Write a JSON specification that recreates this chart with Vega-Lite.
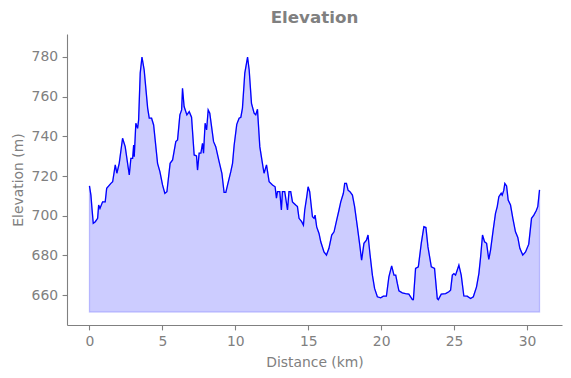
{
  "$schema": "https://vega.github.io/schema/vega-lite/v6.json",
  "autosize": {"type": "none"},
  "padding": {"left": 67, "top": 34, "right": 9, "bottom": 53},
  "width": 495,
  "height": 291,
  "background": "white",
  "title": {"text": "Elevation", "font": "DejaVu Sans", "fontSize": 16.7, "fontWeight": "bold", "color": "#808080", "anchor": "middle", "frame": "group", "offset": 7},
  "config": {
    "view": {"stroke": null},
    "axis": {"labelFont": "DejaVu Sans", "titleFont": "DejaVu Sans", "labelFontSize": 13.9, "titleFontSize": 13.9, "titleFontWeight": "normal", "labelColor": "#808080", "titleColor": "#808080", "domainColor": "#808080", "tickColor": "#808080", "domainWidth": 1.1, "tickWidth": 1.1, "tickSize": 4.9, "labelPadding": 4.5, "grid": false}
  },
  "data": {"values": [
    {"d": 0.00, "e": 715.0}, {"d": 0.10, "e": 710.4}, {"d": 0.17, "e": 703.9}, {"d": 0.26, "e": 696.2}, {"d": 0.40, "e": 697.0},
    {"d": 0.56, "e": 698.7}, {"d": 0.63, "e": 705.4}, {"d": 0.72, "e": 703.7}, {"d": 0.90, "e": 707.0}, {"d": 1.08, "e": 707.0},
    {"d": 1.18, "e": 713.8}, {"d": 1.47, "e": 716.3}, {"d": 1.59, "e": 717.1}, {"d": 1.77, "e": 725.6}, {"d": 1.88, "e": 721.4},
    {"d": 2.04, "e": 726.4}, {"d": 2.27, "e": 739.0}, {"d": 2.45, "e": 734.8}, {"d": 2.73, "e": 720.5}, {"d": 2.84, "e": 728.9},
    {"d": 2.96, "e": 728.9}, {"d": 3.03, "e": 735.6}, {"d": 3.07, "e": 729.7}, {"d": 3.18, "e": 746.6}, {"d": 3.30, "e": 744.0},
    {"d": 3.37, "e": 748.2}, {"d": 3.48, "e": 771.8}, {"d": 3.60, "e": 779.9}, {"d": 3.75, "e": 773.5}, {"d": 3.99, "e": 754.2},
    {"d": 4.10, "e": 749.1}, {"d": 4.26, "e": 749.1}, {"d": 4.40, "e": 745.7}, {"d": 4.67, "e": 726.4}, {"d": 4.83, "e": 722.2},
    {"d": 5.01, "e": 715.5}, {"d": 5.17, "e": 711.3}, {"d": 5.31, "e": 712.1}, {"d": 5.53, "e": 726.4}, {"d": 5.70, "e": 728.1},
    {"d": 5.92, "e": 737.3}, {"d": 6.04, "e": 738.2}, {"d": 6.20, "e": 750.8}, {"d": 6.32, "e": 753.3}, {"d": 6.38, "e": 764.2},
    {"d": 6.49, "e": 755.0}, {"d": 6.68, "e": 750.8}, {"d": 6.84, "e": 752.4}, {"d": 7.00, "e": 749.6}, {"d": 7.18, "e": 730.6},
    {"d": 7.34, "e": 730.1}, {"d": 7.41, "e": 723.0}, {"d": 7.52, "e": 731.5}, {"d": 7.64, "e": 731.5}, {"d": 7.75, "e": 736.5},
    {"d": 7.82, "e": 731.5}, {"d": 7.93, "e": 746.6}, {"d": 8.03, "e": 743.2}, {"d": 8.14, "e": 753.3}, {"d": 8.25, "e": 751.6},
    {"d": 8.51, "e": 737.3}, {"d": 8.66, "e": 734.8}, {"d": 8.89, "e": 727.2}, {"d": 9.08, "e": 721.4}, {"d": 9.23, "e": 711.8},
    {"d": 9.35, "e": 711.8}, {"d": 9.47, "e": 715.5}, {"d": 9.69, "e": 722.2}, {"d": 9.81, "e": 726.4}, {"d": 9.92, "e": 735.5},
    {"d": 10.10, "e": 746.0}, {"d": 10.26, "e": 749.1}, {"d": 10.38, "e": 749.6}, {"d": 10.49, "e": 754.2}, {"d": 10.65, "e": 771.8},
    {"d": 10.84, "e": 779.9}, {"d": 10.95, "e": 773.5}, {"d": 11.11, "e": 756.6}, {"d": 11.29, "e": 751.6}, {"d": 11.40, "e": 750.8},
    {"d": 11.52, "e": 753.6}, {"d": 11.68, "e": 734.8}, {"d": 11.86, "e": 726.4}, {"d": 11.97, "e": 721.4}, {"d": 12.14, "e": 725.6},
    {"d": 12.32, "e": 717.1}, {"d": 12.55, "e": 715.5}, {"d": 12.73, "e": 714.6}, {"d": 12.82, "e": 708.8}, {"d": 12.89, "e": 712.1},
    {"d": 13.05, "e": 712.1}, {"d": 13.16, "e": 702.9}, {"d": 13.23, "e": 712.1}, {"d": 13.39, "e": 712.1}, {"d": 13.58, "e": 702.9},
    {"d": 13.68, "e": 712.1}, {"d": 13.80, "e": 712.1}, {"d": 13.92, "e": 707.0}, {"d": 14.03, "e": 706.2}, {"d": 14.14, "e": 705.4},
    {"d": 14.26, "e": 704.6}, {"d": 14.37, "e": 698.7}, {"d": 14.55, "e": 697.0}, {"d": 14.67, "e": 695.3}, {"d": 14.76, "e": 702.9},
    {"d": 14.90, "e": 709.6}, {"d": 14.99, "e": 714.6}, {"d": 15.10, "e": 712.1}, {"d": 15.29, "e": 699.5}, {"d": 15.40, "e": 698.7},
    {"d": 15.47, "e": 700.3}, {"d": 15.58, "e": 694.4}, {"d": 15.74, "e": 691.1}, {"d": 15.86, "e": 686.9}, {"d": 16.08, "e": 681.8},
    {"d": 16.25, "e": 680.2}, {"d": 16.42, "e": 683.6}, {"d": 16.61, "e": 690.3}, {"d": 16.77, "e": 691.9}, {"d": 16.95, "e": 697.8},
    {"d": 17.11, "e": 702.9}, {"d": 17.23, "e": 707.0}, {"d": 17.41, "e": 711.3}, {"d": 17.50, "e": 716.3}, {"d": 17.62, "e": 716.3},
    {"d": 17.73, "e": 712.9}, {"d": 17.86, "e": 712.1}, {"d": 18.03, "e": 710.4}, {"d": 18.18, "e": 704.6}, {"d": 18.37, "e": 694.4},
    {"d": 18.55, "e": 684.3}, {"d": 18.66, "e": 677.6}, {"d": 18.82, "e": 686.1}, {"d": 18.99, "e": 687.7}, {"d": 19.10, "e": 690.3},
    {"d": 19.23, "e": 681.0}, {"d": 19.40, "e": 670.1}, {"d": 19.55, "e": 663.4}, {"d": 19.74, "e": 659.2}, {"d": 19.97, "e": 658.7},
    {"d": 20.15, "e": 659.5}, {"d": 20.36, "e": 659.5}, {"d": 20.53, "e": 669.2}, {"d": 20.72, "e": 674.8}, {"d": 20.88, "e": 670.1},
    {"d": 21.00, "e": 670.1}, {"d": 21.11, "e": 665.9}, {"d": 21.22, "e": 662.2}, {"d": 21.45, "e": 661.2}, {"d": 21.67, "e": 660.8},
    {"d": 21.90, "e": 660.5}, {"d": 22.14, "e": 657.8}, {"d": 22.21, "e": 657.8}, {"d": 22.36, "e": 673.5}, {"d": 22.55, "e": 674.3},
    {"d": 22.75, "e": 686.1}, {"d": 22.93, "e": 694.5}, {"d": 23.07, "e": 694.1}, {"d": 23.21, "e": 684.3}, {"d": 23.44, "e": 674.3},
    {"d": 23.66, "e": 673.5}, {"d": 23.85, "e": 658.3}, {"d": 23.92, "e": 657.8}, {"d": 24.12, "e": 660.5}, {"d": 24.42, "e": 660.8},
    {"d": 24.64, "e": 661.7}, {"d": 24.76, "e": 662.5}, {"d": 24.88, "e": 670.1}, {"d": 24.99, "e": 670.9}, {"d": 25.10, "e": 670.1},
    {"d": 25.33, "e": 675.1}, {"d": 25.49, "e": 670.1}, {"d": 25.67, "e": 659.6}, {"d": 25.90, "e": 659.5}, {"d": 26.13, "e": 658.3},
    {"d": 26.32, "e": 659.2}, {"d": 26.54, "e": 664.2}, {"d": 26.70, "e": 670.9}, {"d": 26.82, "e": 679.3}, {"d": 26.95, "e": 690.3},
    {"d": 27.09, "e": 686.9}, {"d": 27.23, "e": 686.1}, {"d": 27.38, "e": 678.0}, {"d": 27.50, "e": 682.7}, {"d": 27.68, "e": 692.8},
    {"d": 27.84, "e": 701.2}, {"d": 27.96, "e": 704.6}, {"d": 28.07, "e": 709.6}, {"d": 28.23, "e": 711.3}, {"d": 28.30, "e": 710.4},
    {"d": 28.41, "e": 712.9}, {"d": 28.48, "e": 716.3}, {"d": 28.60, "e": 715.0}, {"d": 28.71, "e": 707.9}, {"d": 28.87, "e": 705.4},
    {"d": 29.03, "e": 698.7}, {"d": 29.21, "e": 691.9}, {"d": 29.37, "e": 689.1}, {"d": 29.51, "e": 683.6}, {"d": 29.71, "e": 680.2},
    {"d": 29.90, "e": 681.8}, {"d": 30.12, "e": 685.7}, {"d": 30.31, "e": 698.7}, {"d": 30.47, "e": 700.3}, {"d": 30.63, "e": 702.5},
    {"d": 30.74, "e": 704.6}, {"d": 30.86, "e": 713.0}
  ]},
  "encoding": {
    "x": {"field": "d", "type": "quantitative", "title": "Distance (km)", "scale": {"domain": [-1.54, 32.4], "nice": false, "zero": false}, "axis": {"values": [0, 5, 10, 15, 20, 25, 30], "titlePadding": 7}},
    "y": {"field": "e", "type": "quantitative", "title": "Elevation (m)", "scale": {"domain": [645, 791.5], "nice": false, "zero": false}, "axis": {"values": [660, 680, 700, 720, 740, 760, 780], "titlePadding": 6}}
  },
  "layer": [
    {"mark": {"type": "area", "color": "blue", "fillOpacity": 0.2, "stroke": "blue", "strokeOpacity": 0.2, "strokeWidth": 1.3}, "encoding": {"y2": {"datum": 651.5}}},
    {"mark": {"type": "line", "color": "blue", "strokeWidth": 1.3}}
  ]
}
